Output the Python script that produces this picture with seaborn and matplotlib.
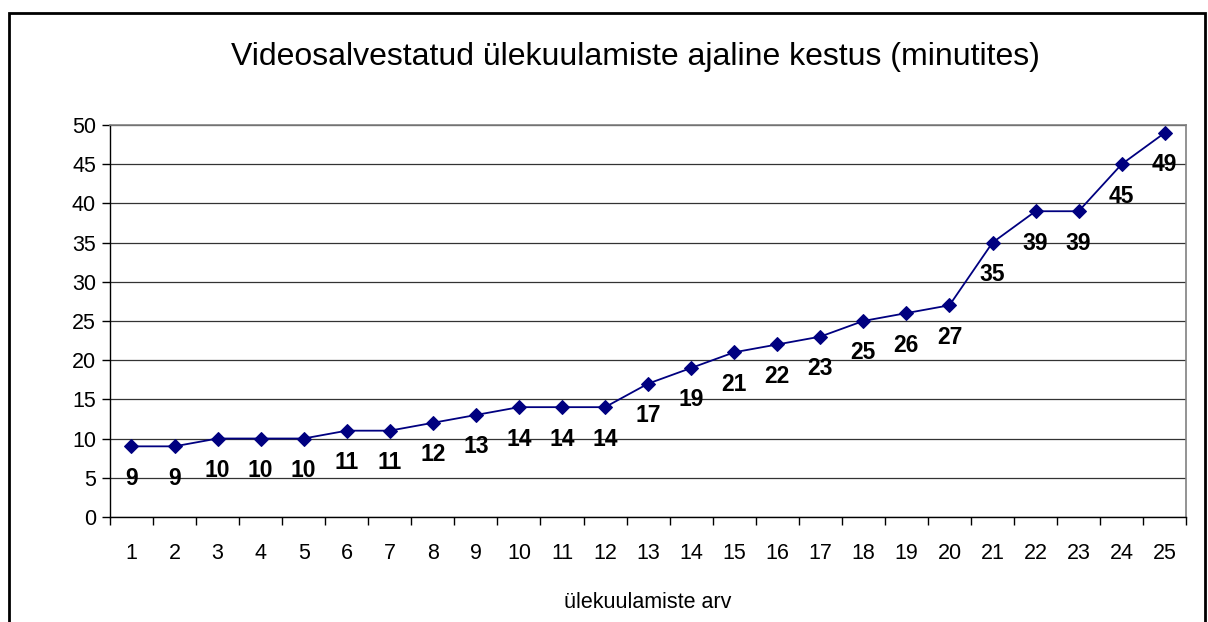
import pandas as pd
import seaborn as sns
import matplotlib.pyplot as plt
from matplotlib.patches import Rectangle
from matplotlib.ticker import FixedLocator

# data
interrogations = list(range(1, 26))
minutes = [9, 9, 10, 10, 10, 11, 11, 12, 13, 14, 14, 14, 17, 19, 21,
           22, 23, 25, 26, 27, 35, 39, 39, 45, 49]
title = 'Videosalvestatud ülekuulamiste ajaline kestus (minutites)'
x_label = 'ülekuulamiste arv'


def main():
    df = pd.DataFrame({'nr': interrogations, 'min': minutes})

    sns.set_style('white')
    plt.rcParams['font.family'] = ['Liberation Sans', 'DejaVu Sans']
    plt.rcParams['text.color'] = 'black'
    plt.rcParams['xtick.color'] = 'black'
    plt.rcParams['ytick.color'] = 'black'
    plt.rcParams['axes.labelcolor'] = 'black'

    fig = plt.figure(figsize=(12.08, 6.22), dpi=100)
    ax = fig.add_axes([0.091, 0.169, 0.891, 0.630])

    sns.lineplot(data=df, x='nr', y='min', ax=ax, color='#000080',
                 linewidth=1.3, marker='D', markersize=7.5,
                 markeredgecolor='#000080')

    # value labels under each point
    for x, y in zip(df['nr'], df['min']):
        ax.annotate(str(y), (x, y), xytext=(0, -23), textcoords='offset points',
                    ha='center', va='center', fontsize=16.5, fontweight='bold',
                    color='black')

    ax.set_xlim(0.5, 25.5)
    ax.set_ylim(0, 50)
    ax.set_yticks(range(0, 51, 5))
    ax.yaxis.grid(True, color='#333333', linewidth=0.9)
    ax.set_axisbelow(True)

    ax.set_xticks(interrogations)
    ax.set_xticklabels([str(i) for i in interrogations])
    ax.xaxis.set_minor_locator(FixedLocator([i + 0.5 for i in range(0, 26)]))
    ax.tick_params(axis='x', which='major', length=0, pad=19, labelsize=15.5)
    ax.tick_params(axis='x', which='minor', length=6, width=1, color='black',
                   direction='out')
    ax.tick_params(axis='y', length=6, width=1, color='black',
                   direction='out', labelsize=15.5, pad=4)
    ax.tick_params(bottom=True, left=True, which='both')

    for side in ['left', 'bottom']:
        ax.spines[side].set_color('black')
        ax.spines[side].set_linewidth(1)
    for side in ['top', 'right']:
        ax.spines[side].set_color('#808080')
        ax.spines[side].set_linewidth(1.2)

    ax.set_xlabel(x_label, fontsize=15.5, labelpad=20)
    ax.set_ylabel('')
    fig.text(0.526, 0.908, title, ha='center', va='center', fontsize=23)

    # outer chart frame, bottom edge runs off the picture
    fig.patches.append(Rectangle((0.0075, -0.05), 0.990, 1.029,
                                 transform=fig.transFigure, fill=False,
                                 edgecolor='black', linewidth=2))

    fig.savefig('out.png', dpi=100)
    plt.close(fig)


if __name__ == "__main__":
    main()
